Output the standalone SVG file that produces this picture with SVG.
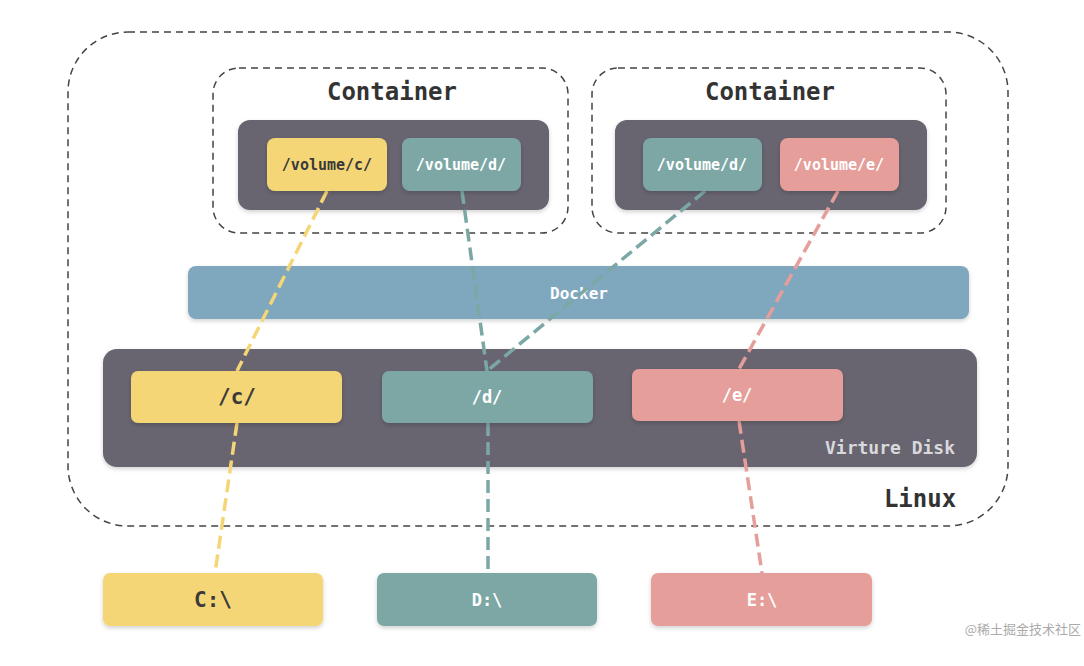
<svg xmlns="http://www.w3.org/2000/svg" width="1084" height="666" viewBox="0 0 1084 666">
<defs>
<filter id="sh" x="-10%" y="-20%" width="120%" height="150%">
<feDropShadow dx="0" dy="2" stdDeviation="2" flood-color="#000" flood-opacity="0.18"/>
</filter>
<style>
.dash{fill:none;stroke:#444;stroke-width:1.5;stroke-dasharray:7 5}
.dark{fill:#67656f;filter:url(#sh)}
.y{fill:#f5d676;filter:url(#sh)}
.t{fill:#7ba7a5;filter:url(#sh)}
.p{fill:#e59e99;filter:url(#sh)}
.b{fill:#7fa8bf;filter:url(#sh)}
text{font-family:"DejaVu Sans Mono","Liberation Mono",monospace;font-weight:bold;text-anchor:middle;dominant-baseline:central}
.title{font-size:24px;fill:#333}
.lbl{font-size:15px;fill:#fff}
.lblk{font-size:15px;fill:#3a3a3a}
.ln{fill:none;stroke-width:3.5;stroke-dasharray:13 6}
.ly{stroke:#f5d676}.lt{stroke:#7ba7a5}.lp{stroke:#e59e99}
</style>
</defs>
<rect width="1084" height="666" fill="#fff"/>
<g id="linux">
<rect class="dash" x="68" y="32" width="940" height="494" rx="60"/>
<text class="title" x="920" y="499">Linux</text>
</g>
<g id="container1">
<rect class="dash" x="213" y="68" width="355" height="165" rx="26"/>
<text class="title" x="392" y="92">Container</text>
<rect class="dark" x="238" y="120" width="311" height="90" rx="12"/>
</g>
<g id="container2">
<rect class="dash" x="592" y="68" width="354" height="165" rx="26"/>
<text class="title" x="770" y="92">Container</text>
<rect class="dark" x="615" y="120" width="312" height="90" rx="12"/>
</g>
<g id="docker">
<rect class="b" x="188" y="266" width="781" height="53" rx="8"/>
<text class="lbl" x="579" y="293" style="font-size:16px">Docker</text>
</g>
<g id="vdisk">
<rect class="dark" x="103" y="349" width="874" height="118" rx="14"/>
<text x="890" y="447" style="font-size:18px;fill:#d9d9dc">Virture Disk</text>
</g>
<g id="connectors">
<polyline class="ln ly" points="327,191 237,371"/>
<polyline class="ln ly" points="237,423 215,573"/>
<polyline class="ln lt" points="462,191 487,371"/>
<polyline class="ln lt" points="705,191 487,371"/>
<polyline class="ln lt" points="488,423 488,573"/>
<polyline class="ln lp" points="838,191 739,369"/>
<polyline class="ln lp" points="739,421 762,573"/>
</g>
<g id="vol-c1">
<rect class="y" x="267" y="138" width="120" height="53" rx="8"/>
<text class="lblk" x="327" y="165">/volume/c/</text>
</g>
<g id="vol-d1">
<rect class="t" x="402" y="138" width="119" height="53" rx="8"/>
<text class="lbl" x="461" y="165">/volume/d/</text>
</g>
<g id="vol-d2">
<rect class="t" x="643" y="138" width="119" height="53" rx="8"/>
<text class="lbl" x="702" y="165">/volume/d/</text>
</g>
<g id="vol-e2">
<rect class="p" x="780" y="138" width="119" height="53" rx="8"/>
<text class="lbl" x="839" y="165">/volume/e/</text>
</g>
<g id="disk-c">
<rect class="y" x="131" y="371" width="211" height="52" rx="7"/>
<text class="lblk" x="237" y="397" style="font-size:21px">/c/</text>
</g>
<g id="disk-d">
<rect class="t" x="382" y="371" width="211" height="52" rx="7"/>
<text class="lbl" x="487" y="397" style="font-size:17px">/d/</text>
</g>
<g id="disk-e">
<rect class="p" x="632" y="369" width="211" height="52" rx="7"/>
<text class="lbl" x="737" y="395" style="font-size:17px">/e/</text>
</g>
<g id="drive-c">
<rect class="y" x="103" y="573" width="220" height="53" rx="7"/>
<text class="lblk" x="213" y="600" style="font-size:21px">C:\</text>
</g>
<g id="drive-d">
<rect class="t" x="377" y="573" width="220" height="53" rx="7"/>
<text class="lbl" x="487" y="600" style="font-size:17px">D:\</text>
</g>
<g id="drive-e">
<rect class="p" x="651" y="573" width="221" height="53" rx="7"/>
<text class="lbl" x="762" y="600" style="font-size:17px">E:\</text>
</g>
<text x="1081" y="628" style="font-family:'Noto Sans CJK SC',sans-serif;font-weight:normal;font-size:13px;fill:#aaa;text-anchor:end">@稀土掘金技术社区</text>
</svg>
